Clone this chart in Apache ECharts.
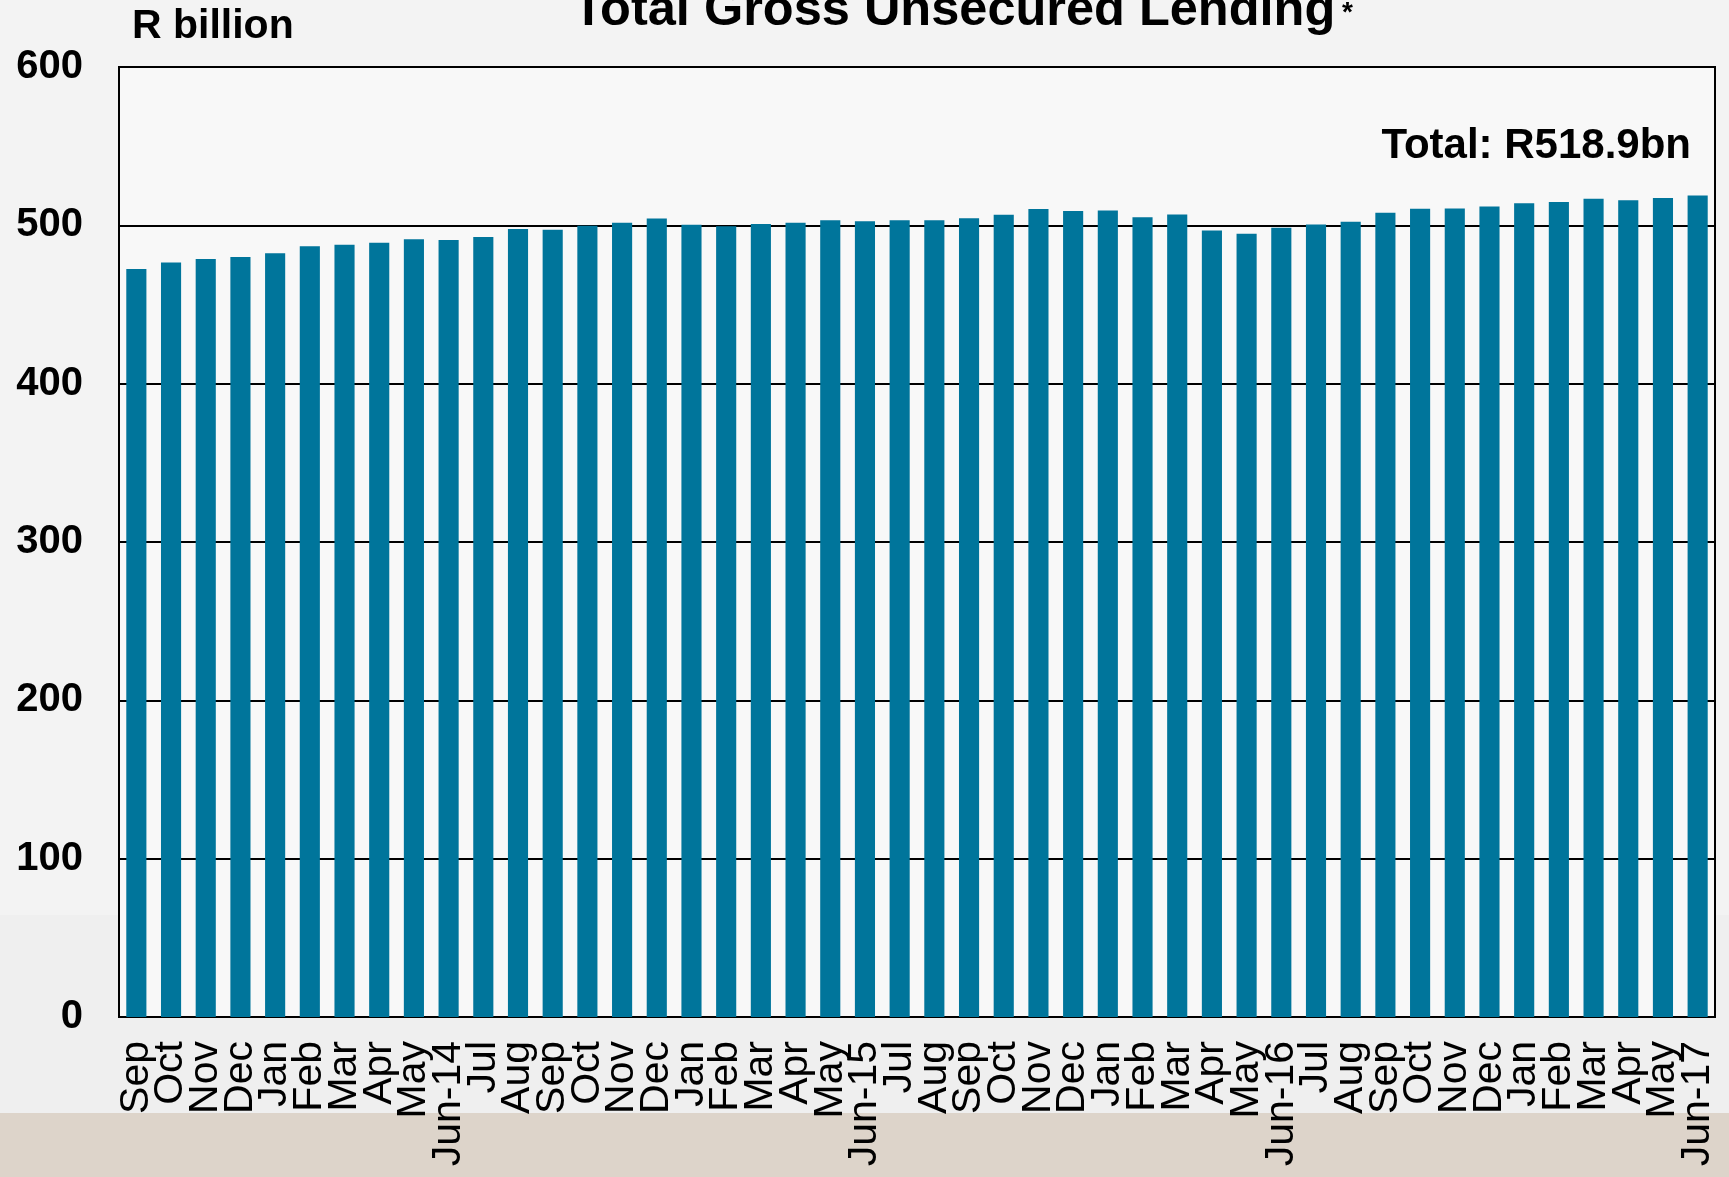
<!DOCTYPE html>
<html>
<head>
<meta charset="utf-8">
<style>
html,body{margin:0;padding:0;background:#f3f3f3;}
#chart{width:1729px;height:1177px;}
</style>
<script src="https://cdn.jsdelivr.net/npm/echarts@6/dist/echarts.min.js"></script>
</head>
<body>
<div id="chart"></div>
<script>
const categories = ['Sep','Oct','Nov','Dec','Jan','Feb','Mar','Apr','May','Jun-14','Jul','Aug',
  'Sep','Oct','Nov','Dec','Jan','Feb','Mar','Apr','May','Jun-15','Jul','Aug',
  'Sep','Oct','Nov','Dec','Jan','Feb','Mar','Apr','May','Jun-16','Jul','Aug',
  'Sep','Oct','Nov','Dec','Jan','Feb','Mar','Apr','May','Jun-17'];
const lendingValues = [472.5,476.5,478.7,480.0,482.3,486.8,487.8,489.0,491.2,490.7,492.6,497.7,
  497.2,499.8,501.6,504.3,500.4,499.4,500.9,501.6,503.2,502.6,503.2,503.2,
  504.4,506.7,510.3,509.0,509.3,505.1,506.9,496.7,494.7,498.5,500.6,502.3,
  507.9,510.5,510.7,511.9,513.9,514.7,516.8,515.8,517.3,518.9];
const yTicks = [0,100,200,300,400,500,600];
const titleText = 'Total Gross Unsecured Lending';
const unitText = 'R billion';
const totalText = 'Total: R518.9bn';

const FONT = "'Liberation Sans', Arial, sans-serif";
const chart = echarts.init(document.getElementById('chart'), null, {renderer:'canvas'});
chart.setOption({
  backgroundColor: '#f3f3f3',
  animation: false,
  graphic: [
    {type:'rect', z:-10, silent:true, shape:{x:0,y:1113,width:1729,height:64}, style:{fill:'#ddd4ca'}},
    {type:'rect', z:-11, silent:true, shape:{x:0,y:915,width:1729,height:198}, style:{fill:'#efefef'}},
    {type:'text', x:573, y:11, style:{text:titleText, font:'bold 50.5px ' + FONT, fill:'#000', textAlign:'left', textVerticalAlign:'middle'}},
    {type:'text', x:1342, y:13, style:{text:'*', font:'bold 28px ' + FONT, fill:'#000', textAlign:'left', textVerticalAlign:'middle'}},
    {type:'text', x:132, y:27, style:{text:unitText, font:'bold 41px ' + FONT, fill:'#000', textAlign:'left', textVerticalAlign:'middle'}},
    {type:'text', x:1691, y:146, style:{text:totalText, font:'bold 42px ' + FONT, fill:'#000', textAlign:'right', textVerticalAlign:'middle'}}
  ],
  grid: {left:119, right:14, top:67, bottom:160, show:true, backgroundColor:'#f8f8f8', borderColor:'#000', borderWidth:2},
  xAxis: {
    type:'category', data:categories,
    axisTick:{show:false},
    axisLine:{show:true, lineStyle:{color:'#000', width:2}},
    axisLabel:{interval:0, rotate:90, margin:24, color:'#000', fontFamily:FONT, fontSize:41}
  },
  yAxis: {
    type:'value', min:yTicks[0], max:yTicks[yTicks.length-1], interval:100,
    axisLine:{show:false}, axisTick:{show:false},
    splitLine:{show:true, lineStyle:{color:'#000', width:2}},
    axisLabel:{margin:36, color:'#000', fontFamily:FONT, fontSize:40, fontWeight:'bold'}
  },
  series: [{
    type:'bar', data:lendingValues, barCategoryGap:'42%',
    itemStyle:{color:'#00759b'}
  }]
});
</script>
</body>
</html>
